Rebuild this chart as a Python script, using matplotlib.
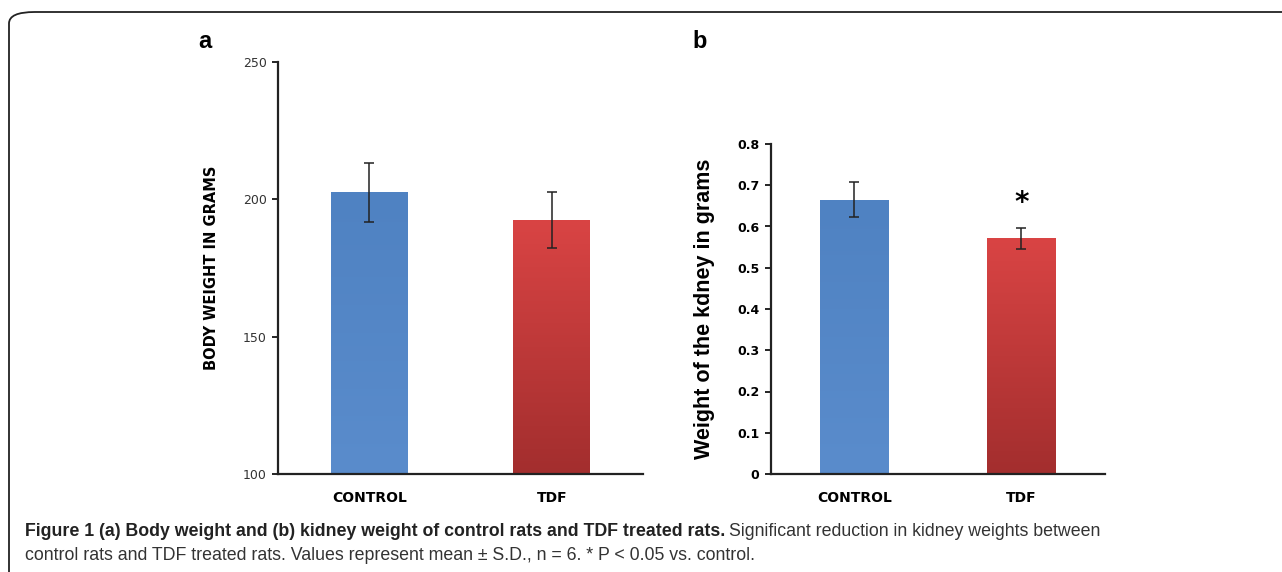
import numpy as np
import matplotlib.pyplot as plt
from matplotlib.patches import FancyBboxPatch
from matplotlib.colors import LinearSegmentedColormap

groups = ['CONTROL', 'TDF']
body_mean = [202.5, 192.5]
body_sd = [10.8, 10.2]
kidney_mean = [0.665, 0.571]
kidney_sd = [0.042, 0.026]

blue_cm = LinearSegmentedColormap.from_list('b', ['#5a8ccc', '#4f82c2'])
red_cm = LinearSegmentedColormap.from_list('r', ['#a32e2e', '#d94444'])

W, H = 1282, 572
fig = plt.figure(figsize=(W / 100, H / 100), dpi=100)

# frame, only top and left edges show
fig.patches.append(FancyBboxPatch((9 / W, -0.2), 1.2, (572 - 12) / H + 0.2,
                                  boxstyle='round,pad=0,rounding_size=0.02',
                                  transform=fig.transFigure, fill=False,
                                  edgecolor='#222222', linewidth=1.3))

# panel a: bars start at 100
ax_a = fig.add_axes([278 / W, 98 / H, 365 / W, 412 / H])
xa = np.arange(len(groups))
bars_a = ax_a.bar(xa, np.array(body_mean) - 100, bottom=100, width=0.42,
                  color='none', edgecolor='none', zorder=2)
ax_b = fig.add_axes([770.7 / W, 98 / H, 334 / W, 330 / H])
bars_b = ax_b.bar(xa, kidney_mean, width=0.41, color='none', edgecolor='none', zorder=2)

for ax, bars, means, sds in [(ax_a, bars_a, body_mean, body_sd),
                             (ax_b, bars_b, kidney_mean, kidney_sd)]:
    # gradient fill clipped to each bar
    for b, cm in zip(bars, [blue_cm, red_cm]):
        x0, y0 = b.get_x(), b.get_y()
        grad = np.linspace(0, 1, 100).reshape(-1, 1)
        im = ax.imshow(grad, cmap=cm, origin='lower', aspect='auto',
                       extent=[x0, x0 + b.get_width(), y0, y0 + b.get_height()],
                       zorder=2)
        im.set_clip_path(b)
    ax.errorbar(xa, means, yerr=sds, fmt='none', ecolor='#222222',
                elinewidth=1.1, capsize=3.5, capthick=1.1, zorder=3)
    ax.set_xlim(-0.5, 1.5)
    ax.set_xticks(xa)
    ax.set_xticklabels(groups, fontsize=10, fontweight='bold')
    ax.tick_params(axis='x', length=0, pad=12)
    ax.tick_params(axis='y', length=4, width=1.2, pad=4, labelsize=9)
    for s in ['top', 'right']:
        ax.spines[s].set_visible(False)
    for s in ['left', 'bottom']:
        ax.spines[s].set_linewidth(1.6)
        ax.spines[s].set_color('#222222')

ax_a.set_ylim(100, 250)
ax_a.set_yticks([100, 150, 200, 250])
for t in ax_a.get_yticklabels():
    t.set_color('#333333')
ax_a.set_ylabel('BODY WEIGHT IN GRAMS', fontsize=10.5, fontweight='bold', labelpad=17)

ax_b.set_ylim(0, 0.8)
ax_b.set_yticks(np.arange(0, 0.81, 0.1))
ax_b.set_yticklabels(['0'] + ['%.1f' % v for v in np.arange(0.1, 0.81, 0.1)],
                     fontweight='bold')
ax_b.set_ylabel('Weight of the kdney in grams', fontsize=15.5, fontweight='bold',
                family='Liberation Sans', labelpad=16)
ax_b.text(1, kidney_mean[1] + kidney_sd[1] + 0.06, '*', ha='center', va='center',
          fontsize=20, fontweight='bold')

fig.text(205 / W, 1 - 42 / H, 'a', fontsize=17, fontweight='bold',
         family='Liberation Sans', ha='center', va='center')
fig.text(700 / W, 1 - 42 / H, 'b', fontsize=17, fontweight='bold',
         family='Liberation Sans', ha='center', va='center')

# caption: bold title then regular text on the same line
cap_font = ['Liberation Sans', 'DejaVu Sans']
r = fig.canvas.get_renderer()
t1 = fig.text(25 / W, 1 - 531 / H,
              'Figure 1 (a) Body weight and (b) kidney weight of control rats and TDF treated rats.',
              fontsize=12.8, fontweight='bold', family=cap_font, va='center', color='#222222')
bb = t1.get_window_extent(r)
fig.text(bb.x1 / W + 4 / W, 1 - 531 / H,
         'Significant reduction in kidney weights between',
         fontsize=12.8, family=cap_font, va='center', color='#333333')
fig.text(25 / W, 1 - 556 / H,
         'control rats and TDF treated rats. Values represent mean \u00b1 S.D., n = 6. * P < 0.05 vs. control.',
         fontsize=12.8, family=cap_font, va='center', color='#333333')

fig.savefig('out.png', dpi=100)
